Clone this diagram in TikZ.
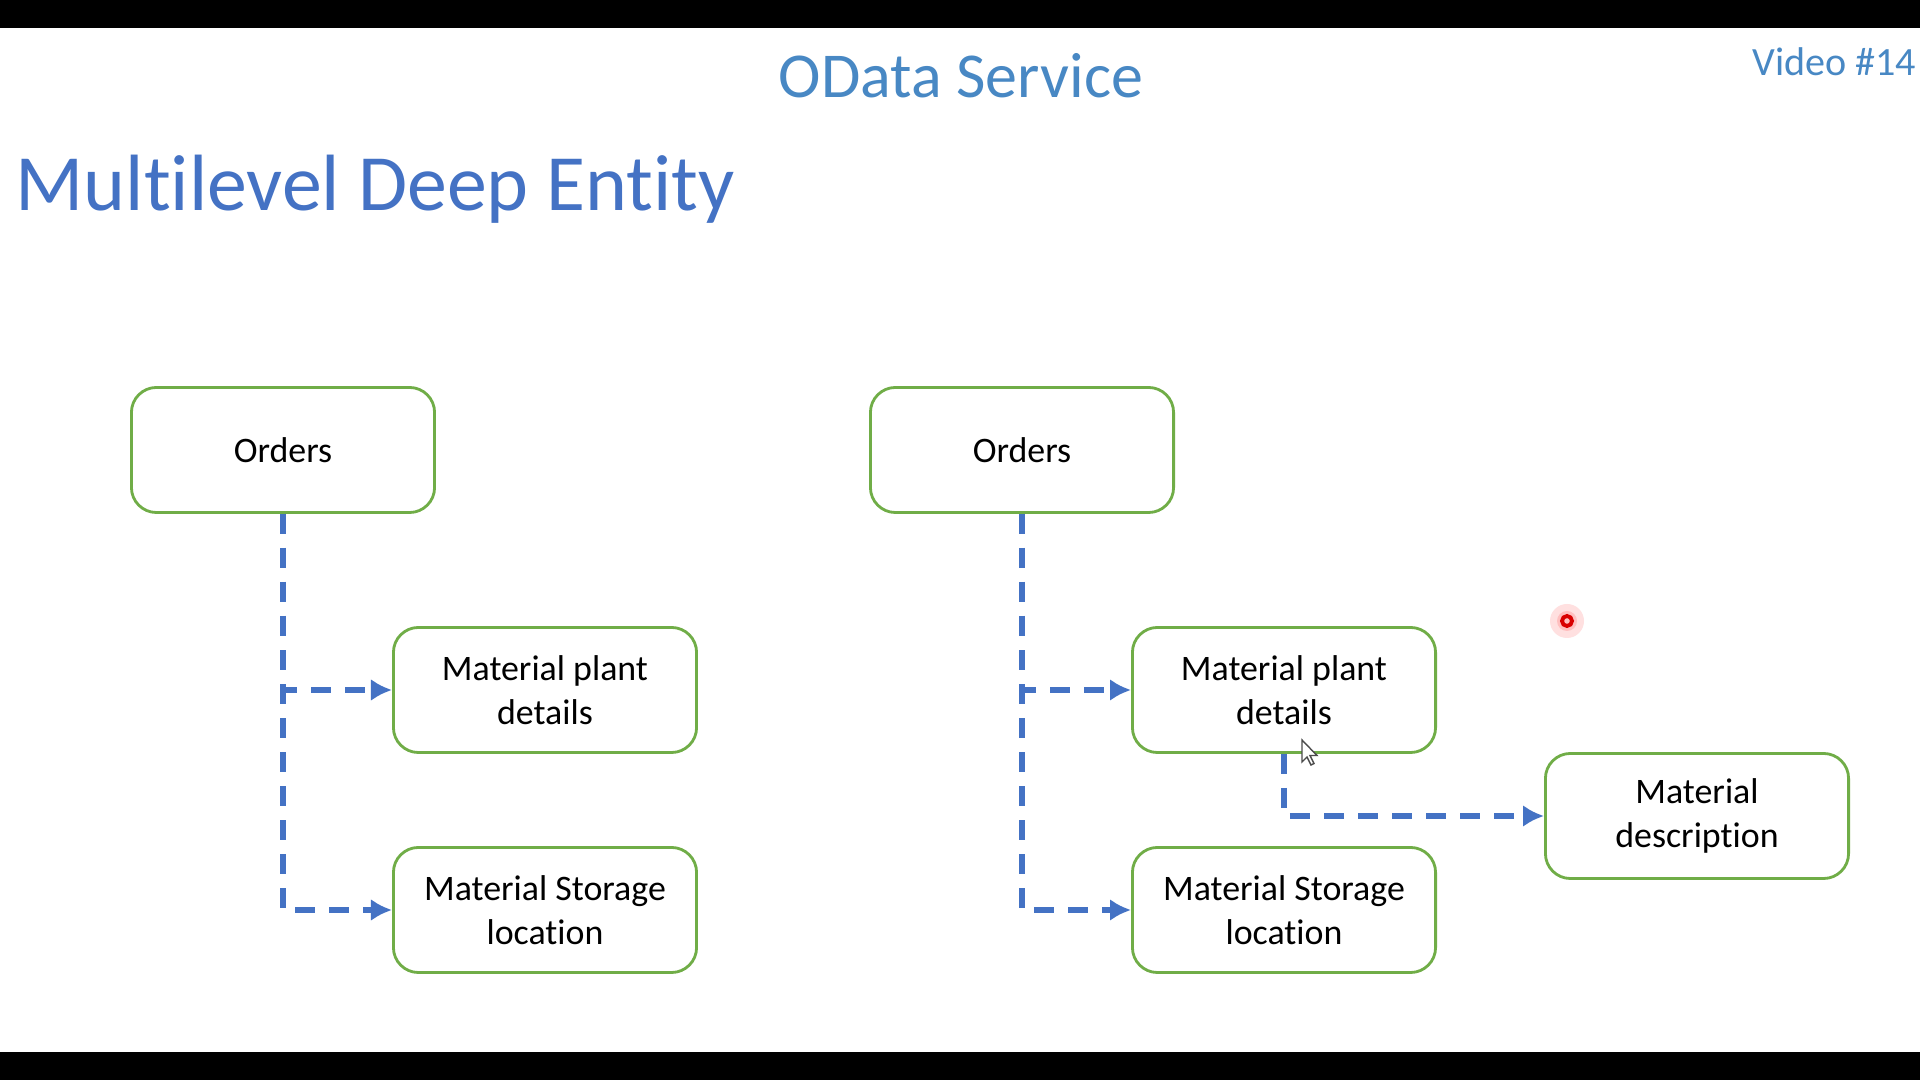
\documentclass[tikz,border=0pt]{standalone}
\usepackage{fontspec}
\setmainfont{Carlito}[Ligatures={NoCommon}]
\usetikzlibrary{arrows.meta}
\definecolor{boxgreen}{RGB}{112,173,71}
\definecolor{linkblue}{RGB}{68,114,196}
\definecolor{headblue}{RGB}{68,114,196}
\definecolor{topblue}{RGB}{72,136,196}
\tikzstyle{entity}=[rectangle, rounded corners=0.25cm, draw=boxgreen, line width=0.8pt, fill=white, minimum width=3.03cm, minimum height=1.25cm, align=center, font=\fontsize{10.2}{12.4}\selectfont]
\tikzstyle{link}=[draw=linkblue, line width=1.5pt, dash pattern=on 0.2cm off 0.14cm, -{Latex[length=0.21cm,width=0.22cm]}]

\begin{document}
\begin{tikzpicture}[x=0.01cm, y=-0.01cm]
    \fill[white] (0,0) rectangle (1920,1080);
    \fill[black] (0,0) rectangle (1920,28);
    \fill[black] (0,1052) rectangle (1920,1080);
    \useasboundingbox (0,0) rectangle (1920,1080);
    \node[anchor=base, text=topblue, font=\fontsize{18.2}{22}\selectfont] (service) at (961,98) {OData Service};
    \node[anchor=base east, inner sep=0pt, text=topblue, font=\fontsize{11.4}{14}\selectfont] (video) at (1917,76) {Video \#14};
    \node[anchor=base west, inner sep=0pt, text=headblue, font=\fontsize{22.7}{27}\selectfont] (title) at (15,211) {Multilevel Deep Entity};
    \node[entity] (ordL) at (283,450) {Orders};
    \node[entity] (plantL) at (545,690) {Material plant\\details};
    \node[entity] (storL) at (545,910) {Material Storage\\location};
    \node[entity] (ordR) at (1022,450) {Orders};
    \node[entity] (plantR) at (1284,690) {Material plant\\details};
    \node[entity] (storR) at (1284,910) {Material Storage\\location};
    \node[entity] (descR) at (1697,816) {Material\\description};
    \draw[link] (ordL.south) |- (plantL.west);
    \draw[link] (ordL.south) |- (storL.west);
    \draw[link] (ordR.south) |- (plantR.west);
    \draw[link] (ordR.south) |- (storR.west);
    \draw[link] (plantR.south) |- (descR.west);
    % pointer marks
    \fill[red!12] (1567,621) circle (17);
    \fill[red!25] (1567,621) circle (10);
    \draw[red!85!black, line width=1.1pt] (1567,621) circle (5);
    \draw[black!70, fill=white, line width=0.4pt] (1302,740) -- ++(0,22) -- ++(5,-5) -- ++(4,8) -- ++(3,-1.5) -- ++(-4,-8) -- ++(7,0) -- cycle;
\end{tikzpicture}
\end{document}
